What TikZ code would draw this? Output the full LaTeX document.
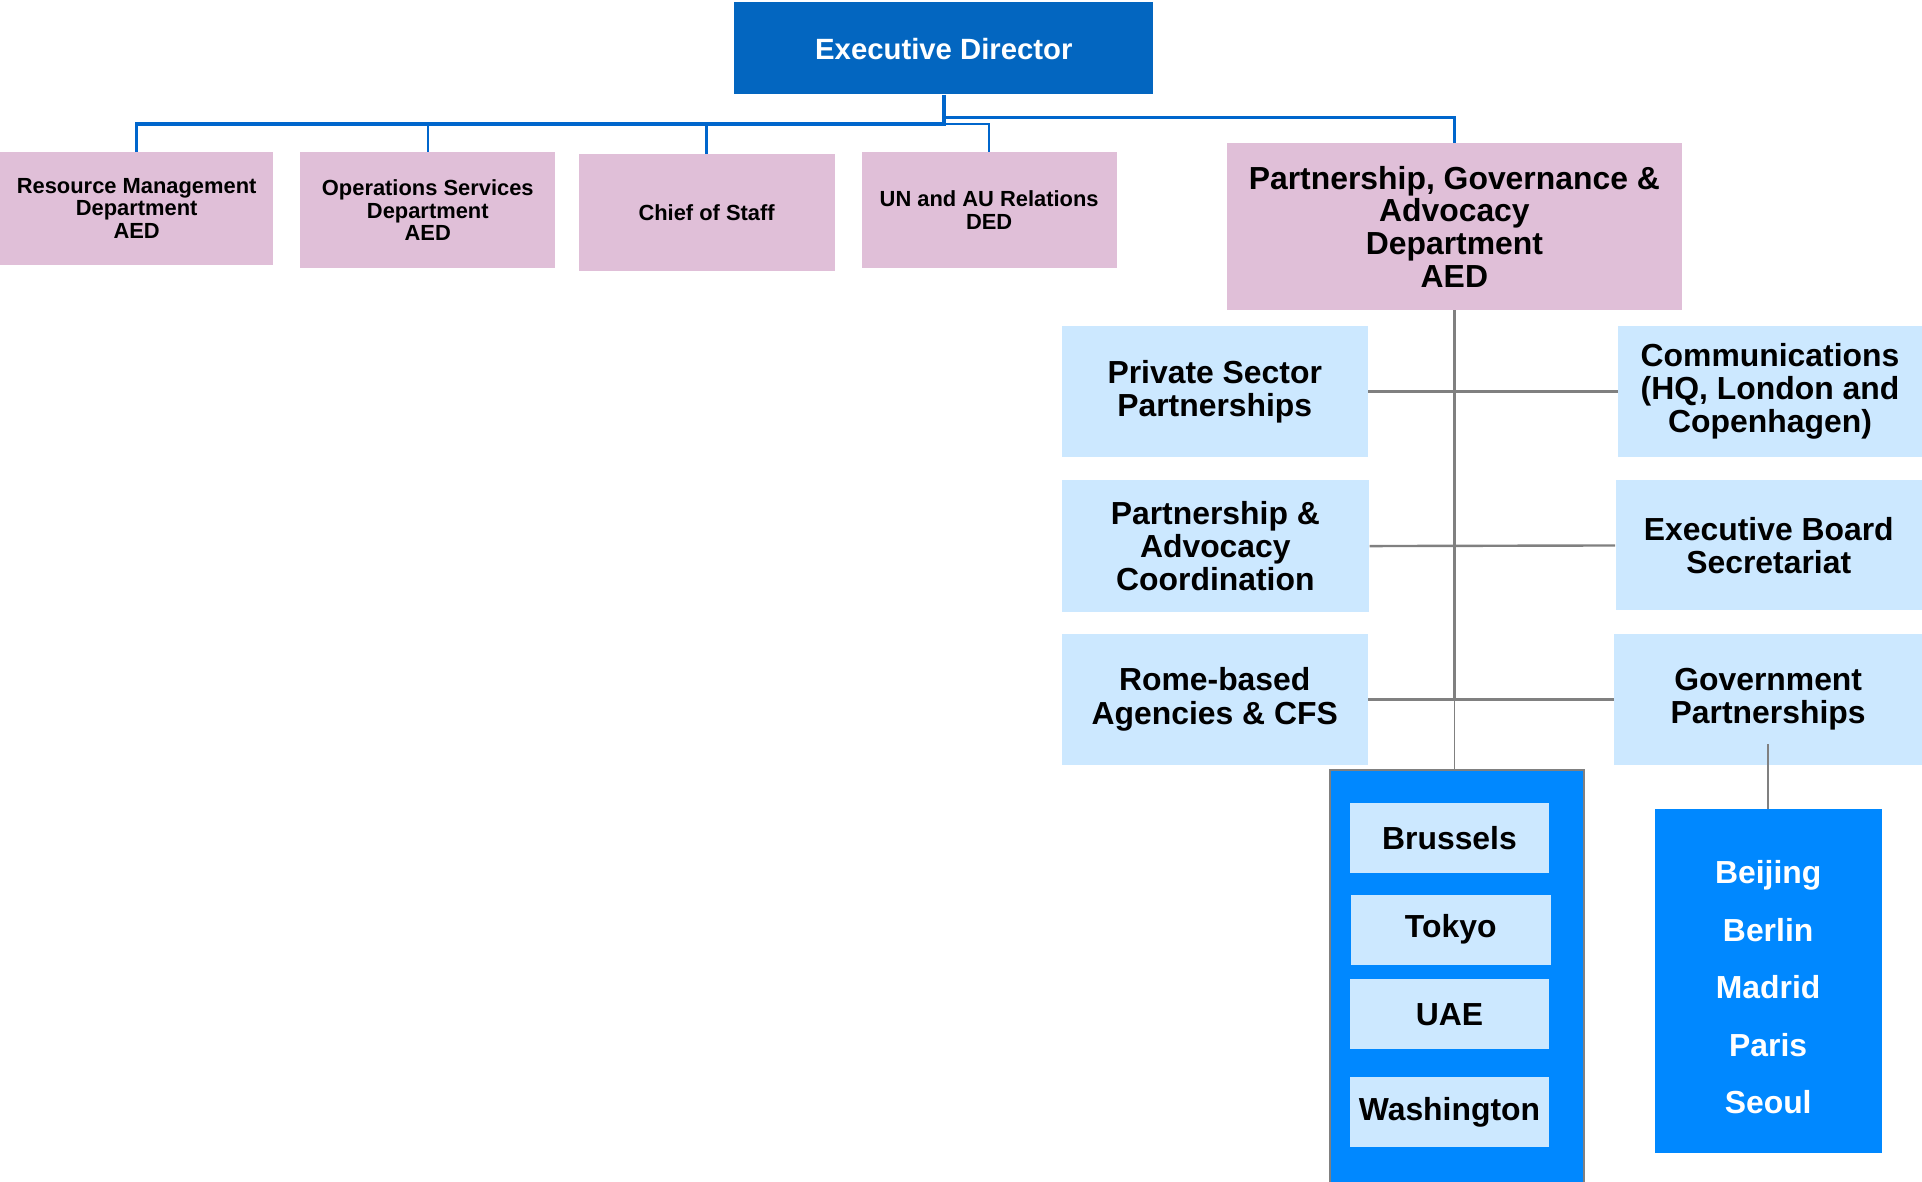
\documentclass[tikz,border=0pt]{standalone}
\usepackage{fontspec}
\setmainfont{Liberation Sans}
\usepackage{tikz}
\usetikzlibrary{positioning}

\definecolor{edblue}{RGB}{3,102,192}
\definecolor{deptpink}{RGB}{224,191,216}
\definecolor{unitblue}{RGB}{204,232,255}
\definecolor{officeblue}{RGB}{0,136,255}
\definecolor{linkblue}{RGB}{0,102,204}
\definecolor{linkgray}{RGB}{128,128,128}

\begin{document}
\begin{tikzpicture}[
    x=0.025cm, y=-0.025cm,
    sized/.style 2 args={
        minimum width=#1*0.025cm,
        minimum height=#2*0.025cm
    },
    director/.style={
        rectangle, fill=edblue, text=white, inner sep=0pt, text depth=-2.8pt,
        font=\fontsize{17}{19}\selectfont\bfseries
    },
    dept/.style={
        rectangle, fill=deptpink, inner sep=0pt, align=center,
        font=\fontsize{12.7}{13.2}\selectfont\bfseries
    },
    bigdept/.style={
        dept, font=\fontsize{18.5}{19}\selectfont\bfseries
    },
    unit/.style={
        rectangle, fill=unitblue, inner sep=0pt, align=center,
        font=\fontsize{18.5}{19.2}\selectfont\bfseries
    },
    office/.style={
        rectangle, fill=officeblue, inner sep=0pt, align=center,
        text=white, font=\fontsize{18.5}{33.4}\selectfont\bfseries
    },
    toplink/.style={draw=linkblue, line width=1.4pt},
    sublink/.style={draw=linkgray, line width=1.4pt}
]
\useasboundingbox (0,0) rectangle (1568,964);

% ROW 1
\node[director, sized={342}{75}] (ED) at (770,39.5) {Executive Director};

% ROW 2
\node[dept, sized={223}{92}] (RM) at (111.5,170) {Resource Management\\Department\\AED};
\node[dept, sized={208}{95}] (OS) at (349,171.5) {Operations Services\\Department\\AED};
\node[dept, sized={209}{95}] (CoS) at (576.5,173.5) {Chief of Staff};
\node[dept, sized={208}{95}] (UN) at (807,171.5) {UN and AU Relations\\DED};
\node[bigdept, sized={371}{136}] (PGA) at (1186.5,185) {Partnership, Governance \&\\Advocacy\\Department\\AED};

% ROW 3
\node[unit, sized={250}{107}] (PSP) at (991,319.5) {Private Sector\\Partnerships};
\node[unit, sized={251}{107}] (PAC) at (991.5,445.5) {Partnership \&\\Advocacy\\Coordination};
\node[unit, sized={250}{107}] (RBA) at (991,570.5) {Rome-based\\Agencies \& CFS};
\node[unit, sized={248}{107}] (COMM) at (1444,319.5) {Communications\\(HQ, London and\\Copenhagen)};
\node[unit, sized={250}{106}] (EBS) at (1443,445) {Executive Board\\Secretariat};
\node[unit, sized={251}{107}] (GP) at (1442.5,570.5) {Government\\Partnerships};

% ROW 4
\node[rectangle, fill=officeblue, draw=linkgray, line width=1pt, sized={207}{340}] (GRP) at (1188.5,798) {};
\node[unit, sized={163}{57}] (BRU) at (1182.5,683.5) {Brussels};
\node[unit, sized={163}{57}] (TOK) at (1183.5,758.5) {Tokyo};
\node[unit, sized={163}{57}] (UAE) at (1182.5,827.5) {UAE};
\node[unit, sized={163}{57}] (WAS) at (1182.5,907.5) {Washington};
\node[office, sized={185}{281}] (BEI) at (1442.5,800.5) {\rule{0pt}{20.4pt}Beijing\\Berlin\\Madrid\\Paris\\Seoul};

% --- LINKS ---
% From ED
\coordinate (busL) at (770,101);
\coordinate (busR) at (770,96);
\draw[toplink, line width=2pt] (ED.south) -- (busL) -| (RM.north);
\draw[toplink] (busL) -| (OS.north);
\draw[toplink] (busL) -| (CoS.north);
\draw[toplink] (busL) -| (UN.north);
\draw[toplink] (busR) -| (PGA.north);

% From PGA
\draw[sublink] (PGA.south) -- (PGA.south |- RBA.east);
\draw[sublink, line width=1pt] (PGA.south |- RBA.east) -- (PGA.south |- GRP.north);
\draw[sublink] (PSP.east) -- (COMM.west);
\draw[sublink] (PAC.east) -- (EBS.west);
\draw[sublink] (RBA.east) -- (GP.west);

% From GP
\draw[sublink, line width=1pt] ([yshift=0.425cm]GP.south) -- (BEI.north);

\end{tikzpicture}
\end{document}
